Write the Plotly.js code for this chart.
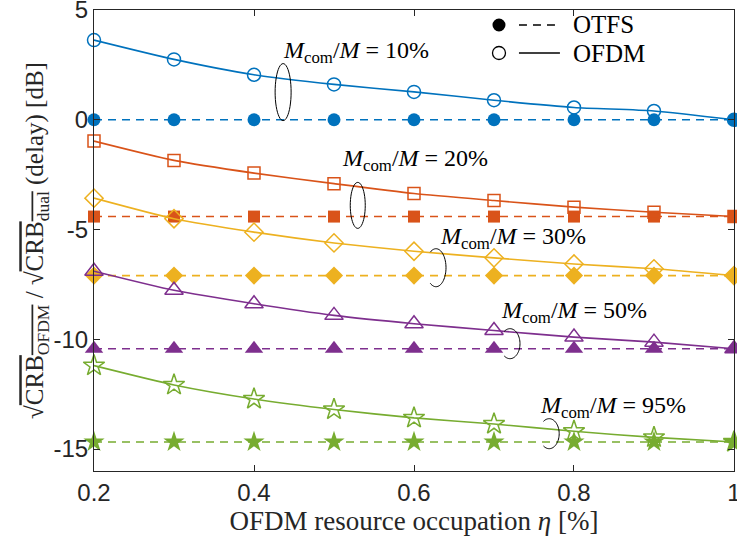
<!DOCTYPE html>
<html>
<head>
<meta charset="utf-8">
<script src="https://cdn.plot.ly/plotly-3.0.1.min.js"></script>
<style>html,body{margin:0;padding:0;background:#fff;}#chart{width:737px;height:548px;}</style>
</head>
<body>
<div id="chart"></div>
<script>
// ---- data ----
const eta = [0.2, 0.3, 0.4, 0.5, 0.6, 0.7, 0.8, 0.9, 1.0];
const ratios = ['10%', '20%', '30%', '50%', '95%'];
const otfs10 = [0, 0, 0, 0, 0, 0, 0, 0, 0];
const otfs20 = [-4.41, -4.41, -4.41, -4.41, -4.41, -4.41, -4.41, -4.41, -4.41];
const otfs30 = [-7.1, -7.1, -7.1, -7.1, -7.1, -7.1, -7.1, -7.1, -7.1];
const otfs50 = [-10.43, -10.43, -10.43, -10.43, -10.43, -10.43, -10.43, -10.43, -10.43];
const otfs95 = [-14.68, -14.68, -14.68, -14.68, -14.68, -14.68, -14.68, -14.68, -14.68];
const ofdm10 = [3.63, 2.75, 2.05, 1.61, 1.27, 0.89, 0.56, 0.40, 0];
const ofdm20 = [-0.97, -1.85, -2.43, -2.91, -3.36, -3.68, -3.98, -4.21, -4.41];
const ofdm30 = [-3.57, -4.51, -5.12, -5.61, -5.99, -6.29, -6.57, -6.79, -7.1];
const ofdm50 = [-6.9, -7.77, -8.38, -8.91, -9.29, -9.6, -9.9, -10.13, -10.43];
const ofdm95 = [-11.2, -12.08, -12.72, -13.2, -13.58, -13.86, -14.19, -14.47, -14.68];
const xTicks = [0.2, 0.4, 0.6, 0.8, 1];
const xTickText = ['0.2', '0.4', '0.6', '0.8', '1'];
const yTicks = [-15, -10, -5, 0, 5];
const yTickText = ['-15', '-10', '-5', '0', '5'];

// ---- styles ----
const colors = ['#0072BD', '#D95319', '#EDB120', '#7E2F8E', '#77AC30'];
const symbols = ['circle', 'square', 'diamond', 'triangle-up', 'star'];
const sizes = [13, 12, 14, 16, 16];
const otfsSeries = [otfs10, otfs20, otfs30, otfs50, otfs95];
const ofdmSeries = [ofdm10, ofdm20, ofdm30, ofdm50, ofdm95];

const traces = [];
for (let i = 0; i < 5; i++) {
  traces.push({
    x: eta, y: otfsSeries[i], type: 'scatter', mode: 'lines+markers', showlegend: false,
    cliponaxis: false,
    line: {color: colors[i], width: 1.6, dash: '8px,6px'},
    marker: {symbol: symbols[i], size: sizes[i], color: colors[i], line: {width: 0}}
  });
  traces.push({
    x: eta, y: ofdmSeries[i], type: 'scatter', mode: 'lines+markers', showlegend: false,
    cliponaxis: false,
    line: {color: colors[i], width: 1.6, shape: 'spline', smoothing: 0.6},
    marker: {symbol: symbols[i] + '-open', size: sizes[i], color: colors[i], line: {width: 1.5, color: colors[i]}}
  });
}

const serif = 'Liberation Serif, DejaVu Serif, serif';
const annFont = {family: serif, size: 24, color: '#000'};
// annotation label positions (data coords)
const labelX = [0.434, 0.508, 0.63, 0.706, 0.755];
const labelY = [3.08, -1.85, -5.37, -8.75, -13.08];
const annotations = ratios.map((r, i) => ({
  x: labelX[i], y: labelY[i], xref: 'x', yref: 'y', xanchor: 'left', yanchor: 'middle',
  showarrow: false, text: '<i>M</i><sub>com</sub>/<i>M</i> = ' + r, font: annFont
}));
annotations.push({x: 0.745, y: 0.9675, xref: 'paper', yref: 'paper', xanchor: 'left', yanchor: 'middle',
  showarrow: false, text: 'OTFS', font: {family: serif, size: 25, color: '#000'}});
annotations.push({x: 0.745, y: 0.9067, xref: 'paper', yref: 'paper', xanchor: 'left', yanchor: 'middle',
  showarrow: false, text: 'OFDM', font: {family: serif, size: 25, color: '#000'}});

// ellipse brackets: [centre x (data), centre y (data), rx px, ry px, start angle deg, end angle deg]
const brackets = [
  [0.4364, 1.26, 8, 28.5, 180, -180],
  [0.5297, -3.9, 7.5, 23, 180, -180],
  [0.6275, -6.74, 10, 19, 125, -125],
  [0.72, -10.2, 10, 15, 125, -125],
  [0.769, -14.3, 10, 15, 125, -125]
];
function arcPath(rx, ry, a0, a1) {
  const n = 48;
  let d = '';
  for (let k = 0; k <= n; k++) {
    const a = (a0 + (a1 - a0) * k / n) * Math.PI / 180;
    const px = (rx * Math.cos(a)).toFixed(2), py = (ry * Math.sin(a)).toFixed(2);
    d += (k === 0 ? 'M' : 'L') + px + ',' + py;
  }
  return d;
}
const shapes = brackets.map(b => ({type: 'path', xref: 'x', yref: 'y', xsizemode: 'pixel', ysizemode: 'pixel',
  xanchor: b[0], yanchor: b[1], path: arcPath(b[2], b[3], b[4], b[5]),
  line: {color: '#000', width: 1}, fillcolor: 'rgba(0,0,0,0)'}));
// legend glyphs
shapes.push({type: 'circle', xref: 'paper', yref: 'paper', xsizemode: 'pixel', ysizemode: 'pixel',
  xanchor: 0.6328, yanchor: 0.9675, x0: -6.5, x1: 6.5, y0: -6.5, y1: 6.5, fillcolor: '#000', line: {width: 0}});
shapes.push({type: 'circle', xref: 'paper', yref: 'paper', xsizemode: 'pixel', ysizemode: 'pixel',
  xanchor: 0.6328, yanchor: 0.9067, x0: -6.5, x1: 6.5, y0: -6.5, y1: 6.5, fillcolor: 'rgba(0,0,0,0)', line: {width: 1.3, color: '#000'}});
shapes.push({type: 'line', xref: 'paper', yref: 'paper', x0: 0.664, x1: 0.728, y0: 0.9675, y1: 0.9675,
  line: {color: '#000', width: 1.6, dash: '8px,6px'}});
shapes.push({type: 'line', xref: 'paper', yref: 'paper', x0: 0.664, x1: 0.728, y0: 0.9067, y1: 0.9067,
  line: {color: '#000', width: 1.6}});

const axisCommon = {
  showline: true, mirror: 'allticks', linecolor: '#262626', linewidth: 1,
  ticks: 'inside', ticklen: 6, tickcolor: '#262626', showgrid: false, zeroline: false,
  ticklabeloverflow: 'allow',
  tickfont: {family: 'Liberation Sans, Arial, sans-serif', size: 24, color: '#262626'}
};

const layout = {
  width: 737, height: 548,
  margin: {l: 94, r: 3, t: 10, b: 77},
  paper_bgcolor: '#fff', plot_bgcolor: '#fff',
  showlegend: false,
  xaxis: Object.assign({}, axisCommon, {
    range: [0.2, 1.00001], tickvals: xTicks, ticktext: xTickText,
    title: {text: 'OFDM resource occupation <i>η</i> [%]', font: {family: serif, size: 27, color: '#262626'}, standoff: 4}
  }),
  yaxis: Object.assign({}, axisCommon, {
    range: [-16, 5.0001], tickvals: yTicks, ticktext: yTickText,
    title: {text: '√<span style="text-decoration:overline">CRB<sub>OFDM</sub></span> / √<span style="text-decoration:overline">CRB<sub>dual</sub></span> (delay) [dB]',
      font: {family: serif, size: 25, color: '#262626'}, standoff: 2}
  }),
  annotations: annotations,
  shapes: shapes
};

Plotly.newPlot('chart', traces, layout, {displayModeBar: false, staticPlot: true});
</script>
</body>
</html>
